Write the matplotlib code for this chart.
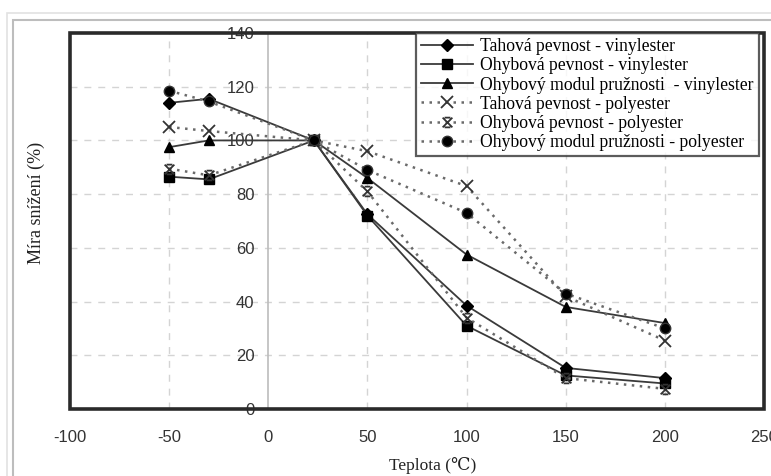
import matplotlib
matplotlib.use("Agg")
import matplotlib.pyplot as plt
from matplotlib.patches import Rectangle
from matplotlib.path import Path

plt.rcParams["axes.unicode_minus"] = False

# ---- data ----
teplota = [-50, -30, 23, 50, 100, 150, 200]
tahova_vinylester = [114, 115.5, 100, 72.5, 38.5, 15.3, 11.5]
ohybova_vinylester = [86.5, 85.5, 100, 72, 31, 12.5, 9.5]
modul_vinylester = [97.5, 100, 100, 86, 57.5, 38, 32]
tahova_polyester = [105, 103.5, 100, 96, 83, 42, 25.5]
ohybova_polyester = [89.5, 87, 100, 81, 34, 11.5, 7.5]
modul_polyester = [118.5, 114.5, 100, 89, 73, 43, 30]

labels = [
    "Tahová pevnost - vinylester",
    "Ohybová pevnost - vinylester",
    "Ohybový modul pružnosti  - vinylester",
    "Tahová pevnost - polyester",
    "Ohybová pevnost - polyester",
    "Ohybový modul pružnosti - polyester",
]
x_ticks = [-100, -50, 0, 50, 100, 150, 200, 250]
y_ticks = [0, 20, 40, 60, 80, 100, 120, 140]

# custom "star" marker: X with bars top and bottom
star = Path(
    [(-1, -1), (1, 1), (-1, 1), (1, -1), (-0.6, 1), (0.6, 1), (-0.6, -1), (0.6, -1)],
    [Path.MOVETO, Path.LINETO, Path.MOVETO, Path.LINETO,
     Path.MOVETO, Path.LINETO, Path.MOVETO, Path.LINETO],
)

serif = ["Liberation Serif", "DejaVu Serif"]

fig = plt.figure(figsize=(7.71, 4.76), dpi=100)
fig.patch.set_facecolor("white")
# outer frame lines
fig.add_artist(Rectangle((7 / 771, -0.1), 1.2, (476 - 13) / 476 + 0.1, transform=fig.transFigure,
                         fill=False, edgecolor="#e2e2e2", lw=1.2))
fig.add_artist(Rectangle((13 / 771, -0.1), 1.2, (476 - 20) / 476 + 0.1, transform=fig.transFigure,
                         fill=False, edgecolor="#bdbdbd", lw=1.5))

ax = fig.add_axes([70 / 771, 1 - 409 / 476, (764 - 70) / 771, (409 - 33) / 476])
ax.set_xlim(-100, 250)
ax.set_ylim(0, 140)

# grid
for xv in [-50, 50, 100, 150, 200]:
    ax.axvline(xv, color="#d4d4d4", lw=1, ls=(0, (5, 5)), zorder=0)
for yv in [20, 40, 60, 80, 100, 120]:
    ax.axhline(yv, color="#d4d4d4", lw=1, ls=(0, (5, 5)), zorder=0)

solid_kw = dict(color="#3a3a3a", lw=1.3, markerfacecolor="black", markeredgecolor="black", zorder=3)
dot_kw = dict(color="#6a6a6a", lw=1.8, ls=(0, (1, 2.2)), markerfacecolor="black",
              markeredgecolor="#333333", zorder=3)

ax.plot(teplota, tahova_vinylester, marker="D", ms=6.5, label=labels[0], **solid_kw)
ax.plot(teplota, ohybova_vinylester, marker="s", ms=7, label=labels[1], **solid_kw)
ax.plot(teplota, modul_vinylester, marker="^", ms=7.5, label=labels[2], **solid_kw)
ax.plot(teplota, tahova_polyester, marker="x", ms=8, mew=1.3, label=labels[3], **dot_kw)
ax.plot(teplota, ohybova_polyester, marker=star, ms=7, mew=1.3, label=labels[4], **dot_kw)
ax.plot(teplota, modul_polyester, marker="o", ms=7.5, label=labels[5], **dot_kw)

# spines: left spine at x=0 (gray), custom frame
for s in ["top", "right", "bottom"]:
    ax.spines[s].set_visible(False)
ax.spines["left"].set_position(("data", 0))
ax.spines["left"].set_color("#bcbcbc")
ax.spines["left"].set_linewidth(1.2)
ax.spines["left"].set_zorder(0)
ax.add_patch(Rectangle((0, 0), 1, 1, transform=ax.transAxes, fill=False,
                       edgecolor="#2a2a2a", lw=2.6, zorder=5, clip_on=False))

ax.set_xticks(x_ticks)
ax.set_yticks(y_ticks)
ax.tick_params(axis="both", length=0, labelsize=12, labelcolor="#333333")
ax.tick_params(axis="x", pad=15)
ax.tick_params(axis="y", pad=10)
for lab in ax.get_xticklabels() + ax.get_yticklabels():
    lab.set_family(["Liberation Sans", "DejaVu Sans"])

ax.set_xlabel("Teplota (℃)", family=serif, fontsize=12.5, color="#222222")
ax.set_ylabel("Míra snížení (%)", family=serif, fontsize=13, color="#222222")
ax.yaxis.set_label_coords(-0.036, 0.548)
ax.xaxis.set_label_coords(0.523, -0.128)

leg = ax.legend(loc="upper right", bbox_to_anchor=(0.9925, 1.0), frameon=True, fancybox=False,
                prop={"family": serif, "size": 12.7},
                handlelength=2.95, handletextpad=0.4, labelspacing=0.12, borderpad=0.3,
                borderaxespad=0.0)
leg.get_frame().set_edgecolor("#333333")
leg.get_frame().set_linewidth(1.6)
leg.set_zorder(6)

fig.savefig("out.png", dpi=100)
